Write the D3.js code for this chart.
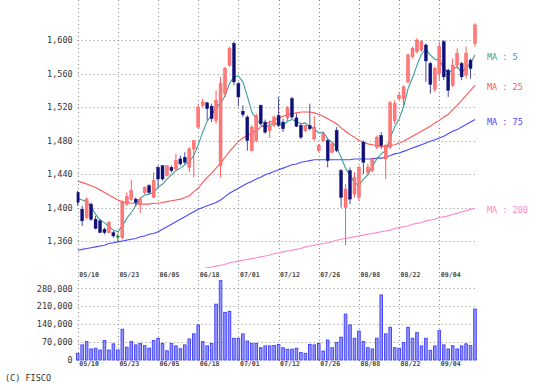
<!DOCTYPE html>
<html>
<head>
<meta charset="utf-8">
<script src="https://cdn.jsdelivr.net/npm/d3@7/dist/d3.min.js"></script>
<style>
  body { margin: 0; background: #fff; }
  text { font-family: "DejaVu Sans Mono", monospace; }
</style>
</head>
<body>
<div id="chart"></div>
<script>
// trading days 2019/05/10 - 2019/09/17
var dates = ["05/10","05/13","05/14","05/15","05/16","05/17","05/20","05/21","05/22","05/23",
  "05/24","05/27","05/28","05/29","05/30","05/31","06/03","06/04","06/05","06/06",
  "06/07","06/10","06/11","06/12","06/13","06/14","06/17","06/18","06/19","06/20",
  "06/21","06/24","06/25","06/26","06/27","06/28","07/01","07/02","07/03","07/04",
  "07/05","07/08","07/09","07/10","07/11","07/12","07/16","07/17","07/18","07/19",
  "07/22","07/23","07/24","07/25","07/26","07/29","07/30","07/31","08/01","08/02",
  "08/05","08/06","08/07","08/08","08/09","08/13","08/14","08/15","08/16","08/19",
  "08/20","08/21","08/22","08/23","08/26","08/27","08/28","08/29","08/30","09/02",
  "09/03","09/04","09/05","09/06","09/09","09/10","09/11","09/12","09/13","09/17"];

var open = [1418,1398,1388,1404,1386,1384,1374,1370,1370,1366,
  1364,1404,1410,1410,1403,1418,1426,1412,1448,1450,
  1438,1448,1446,1458,1460,1448,1470,1496,1522,1525,
  1521,1504,1450,1536,1570,1596,1548,1515,1508,1468,
  1480,1522,1502,1492,1498,1510,1502,1507,1530,1507,
  1498,1492,1498,1482,1468,1480,1480,1466,1492,1444,
  1400,1444,1416,1412,1478,1442,1444,1472,1486,1458,
  1472,1504,1530,1530,1550,1580,1586,1588,1594,1572,
  1541,1560,1598,1564,1546,1570,1572,1558,1576,1596];
var high = [1420,1402,1412,1406,1390,1386,1376,1384,1372,1369,
  1408,1418,1433,1412,1412,1425,1428,1442,1450,1450,
  1450,1450,1464,1462,1466,1472,1480,1524,1530,1526,
  1524,1540,1556,1568,1592,1598,1550,1522,1510,1498,
  1512,1523,1505,1504,1510,1532,1506,1521,1532,1512,
  1500,1499,1524,1509,1476,1490,1482,1478,1496,1446,
  1428,1448,1442,1450,1480,1452,1460,1486,1490,1476,
  1527,1528,1538,1546,1584,1592,1602,1600,1596,1574,
  1568,1598,1600,1566,1578,1590,1574,1592,1578,1620];
var low = [1402,1378,1386,1384,1374,1370,1368,1369,1364,1359,
  1362,1402,1408,1402,1393,1416,1416,1412,1424,1432,
  1437,1442,1444,1450,1452,1442,1436,1494,1520,1504,
  1502,1500,1436,1532,1568,1546,1521,1508,1468,1467,
  1478,1498,1488,1483,1496,1496,1490,1502,1506,1496,
  1482,1490,1492,1480,1466,1478,1448,1465,1466,1400,
  1355,1404,1412,1408,1440,1440,1442,1470,1470,1434,
  1470,1500,1528,1522,1548,1578,1584,1586,1550,1536,
  1538,1552,1552,1532,1544,1566,1552,1554,1554,1592];
var close = [1406,1384,1410,1386,1375,1370,1370,1382,1366,1366,
  1406,1413,1420,1406,1410,1424,1418,1432,1434,1434,
  1450,1444,1456,1452,1454,1470,1480,1520,1526,1518,
  1506,1528,1548,1566,1590,1550,1532,1511,1480,1496,
  1510,1500,1490,1498,1508,1498,1494,1519,1508,1497,
  1484,1498,1494,1496,1474,1488,1456,1476,1468,1412,
  1422,1410,1436,1448,1454,1448,1458,1484,1474,1474,
  1525,1524,1534,1544,1582,1590,1600,1598,1575,1547,
  1566,1592,1556,1540,1570,1584,1556,1584,1566,1618];

var volume = [26000,59000,72000,43000,46000,39000,76000,39000,63000,39000,
  120000,50000,72000,59000,65000,56000,46000,76000,85000,65000,
  36000,65000,55000,44000,59000,82000,102000,137000,72000,55000,
  65000,218000,310000,186000,190000,85000,85000,102000,74000,65000,
  65000,48000,55000,55000,57000,61000,48000,42000,42000,46000,
  29000,26000,61000,59000,65000,35000,78000,48000,68000,89000,
  179000,137000,85000,113000,72000,48000,43000,85000,254000,102000,
  128000,48000,46000,68000,128000,85000,107000,55000,85000,38000,
  55000,115000,59000,43000,56000,43000,55000,63000,56000,199000];

var ma5 = [1411,1409,1407,1401,1392,1385,1382,1377,1373,1371,
  1378,1387,1394,1402,1411,1415,1416,1418,1424,1428,
  1434,1439,1444,1447,1451,1455,1462,1475,1490,1503,
  1510,1520,1525,1533,1548,1556,1557,1550,1533,1514,
  1506,1499,1495,1499,1501,1499,1498,1503,1505,1503,
  1500,1501,1496,1494,1489,1490,1482,1478,1472,1460,
  1447,1438,1430,1426,1434,1439,1449,1458,1464,1468,
  1483,1496,1506,1520,1542,1555,1570,1583,1589,1582,
  1577,1576,1567,1560,1565,1568,1561,1567,1572,1582];
var ma25 = [1431,1430,1428,1426,1424,1421,1418,1415,1412,1409,
  1407,1406,1405,1405,1404,1404,1404,1405,1405,1406,
  1407,1408,1409,1410,1412,1414,1419,1423,1430,1436,
  1441,1447,1453,1460,1467,1473,1479,1483,1486,1489,
  1492,1496,1499,1502,1504,1507,1509,1511,1512,1513,
  1514,1514,1514,1513,1511,1509,1506,1503,1500,1495,
  1491,1487,1484,1480,1478,1476,1475,1474,1473,1473,
  1474,1475,1477,1479,1482,1485,1488,1491,1494,1497,
  1501,1504,1508,1511,1517,1522,1528,1534,1540,1546];
var ma75 = [1349,1350,1351,1352,1353,1354,1355,1357,1358,1359,
  1360,1361,1362,1363,1365,1366,1368,1369,1371,1374,
  1377,1380,1383,1386,1389,1392,1395,1398,1400,1402,
  1404,1406,1409,1413,1417,1420,1423,1426,1429,1431,
  1434,1436,1439,1441,1443,1445,1447,1449,1451,1452,
  1454,1455,1456,1457,1457,1457,1457,1457,1457,1457,
  1457,1457,1458,1458,1458,1458,1458,1459,1459,1460,
  1462,1464,1465,1467,1469,1471,1473,1475,1477,1479,
  1481,1483,1485,1488,1491,1493,1496,1499,1502,1505];
var ma200 = [1298,1299,1300,1301,1302,1303,1304,1305,1306,1307,
  1308,1309,1310,1311,1312,1313,1314,1315,1316,1317,
  1318,1319,1320,1321,1322,1323,1325,1326,1327,1328,
  1329,1330,1331,1332,1334,1335,1336,1337,1338,1339,
  1340,1341,1342,1343,1345,1346,1347,1348,1349,1350,
  1351,1353,1354,1355,1356,1357,1358,1359,1361,1362,
  1363,1364,1365,1366,1367,1368,1369,1370,1371,1372,
  1373,1375,1376,1377,1378,1380,1381,1382,1384,1385,
  1386,1388,1389,1390,1392,1393,1395,1396,1398,1399];

var priceTicks = [1360,1400,1440,1480,1520,1560,1600];
var volTicks = [0,70000,140000,210000,280000];
var dateTicks = ["05/10","05/23","06/05","06/18","07/01","07/12","07/26","08/08","08/22","09/04"];
var maLabels = ["MA : 5","MA : 25","MA : 75","MA : 200"];
var maColors = ["#3c9e98","#ff5555","#4848ff","#ff88c8"];

var w = 549, h = 390;
var left = 77.7, right = 477, priceTop = 0, priceBottom = 268;

var svg = d3.select("#chart").append("svg")
    .attr("width", w)
    .attr("height", h);

var x = d3.scalePoint().domain(dates).range([77.7, 475]);
var y = d3.scaleLinear().domain([1360, 1600]).range([241, 40]);
var yv = d3.scaleLinear().domain([0, 280000]).range([360, 288.3]);

svg.append("clipPath").attr("id", "pclip")
  .append("rect").attr("x", left - 1).attr("y", priceTop)
  .attr("width", right - left + 2).attr("height", priceBottom - priceTop);

// grid
var grid = svg.append("g")
    .attr("stroke", "#8a8a8a")
    .attr("stroke-width", 1)
    .attr("stroke-dasharray", "1,3");

grid.selectAll(".vg").data(dateTicks).enter().append("line")
    .attr("x1", function (d) { return Math.round(x(d)) + 0.5; })
    .attr("x2", function (d) { return Math.round(x(d)) + 0.5; })
    .attr("y1", 0).attr("y2", 364);

grid.selectAll(".hg").data(priceTicks).enter().append("line")
    .attr("x1", left).attr("x2", right)
    .attr("y1", function (d) { return Math.round(y(d)) + 0.5; })
    .attr("y2", function (d) { return Math.round(y(d)) + 0.5; });

grid.selectAll(".vhg").data(volTicks.slice(1)).enter().append("line")
    .attr("x1", left).attr("x2", right)
    .attr("y1", function (d) { return Math.round(yv(d)) + 0.5; })
    .attr("y2", function (d) { return Math.round(yv(d)) + 0.5; });

// axes
var yAxis = d3.axisLeft(y).tickValues(priceTicks)
    .tickFormat(d3.format(",")).tickSize(0).tickPadding(5);
var vAxis = d3.axisLeft(yv).tickValues(volTicks)
    .tickFormat(d3.format(",")).tickSize(0).tickPadding(5);

[svg.append("g").attr("transform", "translate(" + left + ",0)").call(yAxis),
 svg.append("g").attr("transform", "translate(" + left + ",0)").call(vAxis)]
  .forEach(function (g) {
    g.select(".domain").remove();
    g.selectAll("text").attr("font-size", 8.5).attr("fill", "#333")
      .attr("font-family", "DejaVu Sans Mono");
  });

var xAxis = d3.axisBottom(x).tickValues(dateTicks).tickSize(0).tickPadding(0);
[272, 361].forEach(function (ty) {
  var g = svg.append("g").attr("transform", "translate(0," + ty + ")").call(xAxis);
  g.select(".domain").remove();
  g.selectAll("text").attr("text-anchor", "start").attr("dx", 1)
    .attr("font-size", 6.6).attr("font-weight", "bold").attr("fill", "#444")
    .attr("font-family", "DejaVu Sans Mono");
});

// moving averages
var plot = svg.append("g").attr("clip-path", "url(#pclip)");
var mas = [ma5, ma25, ma75, ma200];
var line = d3.line()
    .x(function (d, i) { return x(dates[i]); })
    .y(function (d) { return y(d); });

mas.slice().reverse().forEach(function (m, k) {
  var j = mas.length - 1 - k;
  plot.append("path").datum(m)
    .attr("fill", "none")
    .attr("stroke", maColors[j])
    .attr("stroke-width", 1.1)
    .attr("d", line);
});

// candles
var idx = d3.range(dates.length);
var candle = plot.selectAll(".c").data(idx).enter().append("g");
function col(i) {
  if (close[i] > open[i]) return "#ff4a4a";
  if (close[i] < open[i]) return "#10107a";
  return "#1f7f2a";
}
candle.append("line")
    .attr("x1", function (i) { return x(dates[i]); })
    .attr("x2", function (i) { return x(dates[i]); })
    .attr("y1", function (i) { return y(high[i]); })
    .attr("y2", function (i) { return y(low[i]); })
    .attr("stroke", function (i) { return close[i] > open[i] ? "#ff5a5a" : (close[i] < open[i] ? "#4a4aa0" : "#1f7f2a"); })
    .attr("stroke-width", 1);
candle.append("rect")
    .attr("x", function (i) { return x(dates[i]) - 1.5; })
    .attr("width", 3)
    .attr("y", function (i) { return y(Math.max(open[i], close[i])); })
    .attr("height", function (i) { return Math.max(1.2, Math.abs(y(open[i]) - y(close[i]))); })
    .attr("fill", function (i) { return close[i] > open[i] ? "#ff7a7a" : col(i); })
    .attr("stroke", col)
    .attr("stroke-width", 0.4);

// MA labels
maLabels.forEach(function (t, j) {
  var m = mas[j];
  svg.append("text")
    .attr("x", 487)
    .attr("y", y(m[m.length - 1]) + 2)
    .attr("dy", "0.35em")
    .attr("font-size", 8.5)
    .attr("fill", maColors[j])
    .text(t);
});

// volume bars
svg.selectAll(".v").data(volume).enter().append("rect")
    .attr("x", function (d, i) { return x(dates[i]) - 1.3; })
    .attr("width", 2.6)
    .attr("y", function (d) { return yv(d); })
    .attr("height", function (d) { return yv(0) - yv(d); })
    .attr("fill", "#9696ff")
    .attr("stroke", "#3c3cff")
    .attr("stroke-width", 0.9);

svg.append("text")
    .attr("x", 5).attr("y", 381)
    .attr("font-size", 8.5).attr("fill", "#333")
    .text("(C) FISCO");
</script>
</body>
</html>
